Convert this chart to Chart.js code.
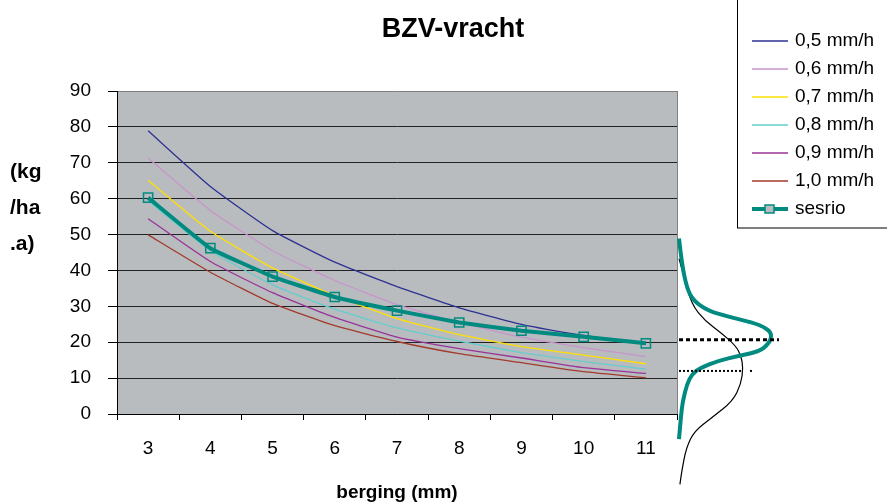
<!DOCTYPE html>
<html>
<head>
<meta charset="utf-8">
<script src="https://cdn.jsdelivr.net/npm/chart.js@4"></script>
<style>
  body { margin: 0; background: #fff; }
  #wrap { width: 887px; height: 502px; position: relative; }
</style>
</head>
<body>
<div id="wrap"><canvas id="bzvChart"></canvas></div>
<script>
// berging (mm)
const berging = [3, 4, 5, 6, 7, 8, 9, 10, 11];

// BZV-vracht (kg/ha.a) per neerslagintensiteit
const labels = ['0,5 mm/h', '0,6 mm/h', '0,7 mm/h', '0,8 mm/h', '0,9 mm/h', '1,0 mm/h', 'sesrio'];
const vracht05 = [78.9, 63.4, 51.1, 42.3, 35.5, 29.6, 25.0, 21.9, 19.5];
const vracht06 = [71.3, 56.7, 45.5, 37.2, 30.5, 25.5, 21.4, 18.5, 16.0];
const vracht07 = [65.1, 50.9, 40.7, 33.0, 26.6, 22.1, 18.8, 16.4, 14.0];
const vracht08 = [59.4, 45.5, 36.0, 29.2, 24.0, 20.3, 17.1, 14.6, 12.5];
const vracht09 = [54.4, 42.5, 33.8, 26.9, 21.4, 18.2, 15.6, 12.9, 11.3];
const vracht10 = [49.9, 39.5, 30.8, 24.6, 20.2, 16.8, 14.3, 11.8, 10.1];
const sesrio   = [60.3, 46.2, 38.3, 32.6, 28.8, 25.5, 23.2, 21.5, 19.7];

const colors = ['#2E3192', '#C894CC', '#FFE000', '#66CCCC', '#993399', '#A33A2C', '#008A80'];

// y-as
const yMin = 0, yMax = 90, yStep = 10;

// verdelingen rechts van de grafiek (waarde in kg/ha.a, relatieve dichtheid)
const sesrioDistValue   = [48.9, 41.9, 34.9, 31.6, 28.8, 27.1, 25.5, 24.1, 22.3, 19.6, 17.4, 16.2, 14.8, 12.9, 11.1, 8.3, 3.6, -1.0, -7.0];
const sesrioDistDensity = [0.0, 0.03, 0.086, 0.156, 0.308, 0.53, 0.79, 0.93, 1.0, 0.97, 0.86, 0.64, 0.42, 0.23, 0.14, 0.086, 0.04, 0.02, 0.0];
const refDistValue   = [43.3, 38.1, 30.7, 26.0, 22.3, 19.0, 16.2, 12.9, 8.4, 3.6, -1.0, -4.7, -9.4, -15.9, -19.6];
const refDistDensity = [0.0, 0.056, 0.133, 0.278, 0.467, 0.61, 0.667, 0.69, 0.667, 0.578, 0.356, 0.167, 0.078, 0.03, 0.01];
const distLevels = [20.7, 12.0];

Chart.defaults.font.family = 'Arial, "Liberation Sans", sans-serif';
Chart.defaults.color = '#000';

function smoothPath(ctx, pts) {
    ctx.beginPath();
    ctx.moveTo(pts[0][0], pts[0][1]);
    for (let i = 1; i < pts.length - 1; i++) {
        const mx = (pts[i][0] + pts[i + 1][0]) / 2;
        const my = (pts[i][1] + pts[i + 1][1]) / 2;
        ctx.quadraticCurveTo(pts[i][0], pts[i][1], mx, my);
    }
    const last = pts[pts.length - 1];
    ctx.lineTo(last[0], last[1]);
    ctx.stroke();
}

const extras = {
    id: 'extras',
    beforeDraw(chart) {
        const { ctx, chartArea: a } = chart;
        ctx.save();
        ctx.fillStyle = '#B8BCBF';
        ctx.fillRect(a.left, a.top, a.right - a.left, a.bottom - a.top);
        ctx.restore();
    },
    afterDraw(chart) {
        const { ctx, chartArea: a } = chart;
        const y = chart.scales.y;
        ctx.save();

        // rand plotgebied rechts
        ctx.strokeStyle = '#808080';
        ctx.lineWidth = 1;
        ctx.beginPath();
        ctx.moveTo(a.right + 0.5, a.top);
        ctx.lineTo(a.right + 0.5, a.bottom);
        ctx.stroke();

        // titel
        ctx.fillStyle = '#000';
        ctx.font = 'bold 27px Arial, "Liberation Sans"';
        ctx.textAlign = 'center';
        ctx.textBaseline = 'middle';
        ctx.fillText('BZV-vracht', 453, 30);

        // y-as titel
        ctx.font = 'bold 21px Arial, "Liberation Sans"';
        ctx.textAlign = 'left';
        ['(kg', '/ha', '.a)'].forEach((t, i) => ctx.fillText(t, 10, 172 + i * 36));

        // legenda
        ctx.fillStyle = '#fff';
        ctx.fillRect(737, 0, 150, 228);
        ctx.strokeStyle = '#000';
        ctx.strokeRect(737.5, -1, 160, 229);
        ctx.font = '19px Arial, "Liberation Sans"';
        chart.data.datasets.forEach((ds, i) => {
            const ly = 41 + i * 28;
            ctx.strokeStyle = ds.borderColor;
            ctx.lineWidth = ds.borderWidth;
            ctx.beginPath();
            ctx.moveTo(752, ly);
            ctx.lineTo(788, ly);
            ctx.stroke();
            if (ds.pointRadius > 0) {
                ctx.lineWidth = 1.5;
                ctx.fillStyle = '#B8BCBF';
                ctx.fillRect(765, ly - 4, 9, 8);
                ctx.strokeRect(765, ly - 4, 9, 8);
            }
            ctx.fillStyle = '#000';
            ctx.fillText(ds.label, 795, ly);
        });

        // verdelingen
        const base = a.right + 2;
        const w = 93;
        ctx.lineJoin = 'round';
        ctx.strokeStyle = '#000';
        ctx.lineWidth = 1.2;
        smoothPath(ctx, refDistValue.map((v, i) => [base + refDistDensity[i] * w, y.getPixelForValue(v)]));
        ctx.strokeStyle = colors[6];
        ctx.lineWidth = 4;
        smoothPath(ctx, sesrioDistValue.map((v, i) => [base + sesrioDistDensity[i] * w, y.getPixelForValue(v)]));

        // stippellijnen
        ctx.strokeStyle = '#000';
        ctx.lineWidth = 3;
        ctx.setLineDash([4, 3]);
        let py = y.getPixelForValue(distLevels[0]);
        ctx.beginPath(); ctx.moveTo(base, py); ctx.lineTo(base + 100, py); ctx.stroke();
        ctx.lineWidth = 2;
        ctx.setLineDash([2, 2]);
        py = y.getPixelForValue(distLevels[1]);
        ctx.beginPath(); ctx.moveTo(base, py); ctx.lineTo(base + 62, py); ctx.stroke();
        ctx.beginPath(); ctx.moveTo(base + 71, py); ctx.lineTo(base + 73, py); ctx.stroke();

        ctx.restore();
    }
};

const series = [vracht05, vracht06, vracht07, vracht08, vracht09, vracht10];
const datasets = series.map((d, i) => ({
    label: labels[i],
    data: d,
    borderColor: colors[i],
    borderWidth: 1.3,
    pointRadius: 0,
    tension: 0.15,
    fill: false
}));
datasets.push({
    label: labels[6],
    data: sesrio,
    borderColor: colors[6],
    borderWidth: 4,
    pointStyle: 'rect',
    pointRadius: 6.5,
    pointBorderWidth: 1.5,
    pointBackgroundColor: 'rgba(0,0,0,0)',
    pointBorderColor: colors[6],
    tension: 0.1,
    order: -1,
    fill: false
});

const ctx = document.getElementById('bzvChart').getContext('2d');
new Chart(ctx, {
    type: 'line',
    data: { labels: berging, datasets: datasets },
    options: {
        responsive: true,
        maintainAspectRatio: false,
        animation: false,
        layout: { padding: { top: 91, right: 210, left: 0, bottom: 0 } },
        plugins: { legend: { display: false }, tooltip: { enabled: false } },
        scales: {
            x: {
                offset: true,
                grid: { offset: true, drawOnChartArea: false, tickLength: 6, tickColor: '#000' },
                border: { color: '#000' },
                ticks: { font: { size: 19 }, padding: 17 },
                title: { display: true, text: 'berging (mm)', font: { size: 19, weight: 'bold', lineHeight: 1 }, padding: 0 },
                afterFit: s => { s.height = 88; }
            },
            y: {
                min: yMin,
                max: yMax,
                grid: {
                    color: c => c.tick.value === yMax ? '#808080' : '#222',
                    tickLength: 9,
                    tickColor: '#000'
                },
                border: { color: '#000' },
                ticks: { stepSize: yStep, font: { size: 19 }, padding: 17 },
                afterFit: s => { s.width = 117; }
            }
        }
    },
    plugins: [extras]
});
</script>
</body>
</html>
